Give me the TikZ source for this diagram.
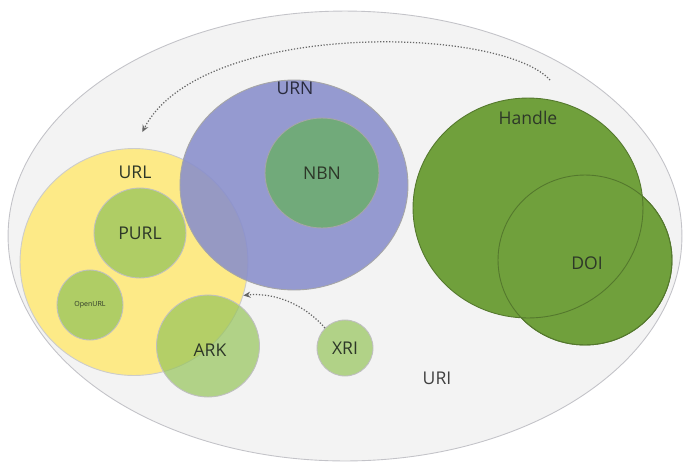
\documentclass[tikz,border=0pt]{standalone}
\usepackage{fontspec}
\setmainfont{Open Sans}
\usetikzlibrary{arrows.meta,shapes.geometric}
\definecolor{uribg}{RGB}{243,243,243}
\definecolor{uriline}{RGB}{195,195,200}
\definecolor{urlyellow}{RGB}{253,234,135}
\definecolor{urnblue}{RGB}{136,142,204}
\definecolor{handlegreen}{RGB}{112,160,60}
\definecolor{lightgreen}{RGB}{150,196,90}
\definecolor{labeldark}{RGB}{45,55,40}
\tikzstyle{idset} = [ellipse,inner sep=0pt,draw=black!35,line width=0.5pt]
\tikzstyle{idlabel} = [font=\fontsize{10}{12}\selectfont,text=labeldark]
\tikzstyle{link} = [densely dotted,draw=black!60,line width=0.7pt,-{Stealth[length=4pt,width=3.5pt]}]
\begin{document}
\begin{tikzpicture}[x=0.02cm,y=-0.02cm]
	\useasboundingbox (0,0) rectangle (685,467);
	\node (uri) [idset,fill=uribg,draw=uriline,minimum width=13.48cm,minimum height=9cm] at (345,236) {};
	\node (url) [idset,fill=urlyellow,draw=black!20,minimum width=4.56cm,minimum height=4.54cm] at (134,262) {};
	\node (urn) [idset,fill=urnblue,fill opacity=0.88,draw=black!35,minimum width=4.56cm,minimum height=4.2cm] at (294,185) {};
	\node (doi) [idset,fill=handlegreen,draw=handlegreen!75!black,minimum width=3.48cm,minimum height=3.4cm] at (585,260) {};
	\node (handle) [idset,fill=handlegreen,draw=handlegreen!75!black,minimum width=4.6cm,minimum height=4.4cm] at (528,208) {};
	\node (doiedge) [idset,draw=handlegreen!75!black,minimum width=3.48cm,minimum height=3.4cm] at (doi) {};
	\node (nbn) [idset,fill=lightgreen!70!teal,fill opacity=0.8,draw=black!35,minimum width=2.28cm,minimum height=2.2cm] at (322,173) {};
	\node (purl) [idset,fill=lightgreen,fill opacity=0.75,draw=black!25,minimum width=1.84cm,minimum height=1.8cm] at (140,233) {};
	\node (openurl) [idset,fill=lightgreen,fill opacity=0.75,draw=black!25,minimum width=1.32cm,minimum height=1.4cm] at (90,305) {};
	\node (ark) [idset,fill=lightgreen,fill opacity=0.7,draw=black!25,minimum width=2.06cm,minimum height=2.04cm] at (208,346) {};
	\node (xri) [idset,fill=lightgreen,fill opacity=0.7,draw=black!25,minimum width=1.12cm,minimum height=1.12cm] at (345,348) {};
	\node (urilabel) [idlabel,text=black!75] at (437,378) {URI};
	\node (urllabel) [idlabel] at (135,172) {URL};
	\node (urnlabel) [idlabel,text=urnblue!30!black] at (295,88) {URN};
	\node (handlelabel) [idlabel] at (528,118) {Handle};
	\node (nbnlabel) [idlabel] at (nbn) {NBN};
	\node (purllabel) [idlabel] at (purl) {PURL};
	\node (openurllabel) [font=\fontsize{4}{5}\selectfont,text=labeldark] at (openurl) {OpenURL};
	\node (arklabel) [idlabel] at (210,350) {ARK};
	\node (xrilabel) [idlabel] at (xri) {XRI};
	\node (doilabel) [idlabel] at (587,263) {DOI};
	\coordinate (hstart) at (550,80);
	\draw [link,shorten >=0.36cm] (hstart) .. controls (500,25) and (200,20) .. (url.north);
	\draw [link] (xri.north west) .. controls (305,305) and (275,292) .. (url.-17);
\end{tikzpicture}
\end{document}
